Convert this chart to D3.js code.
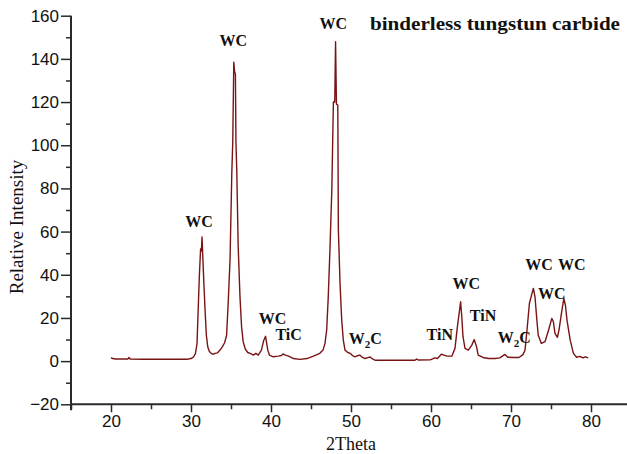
<!DOCTYPE html>
<html><head><meta charset="utf-8">
<script src="https://cdn.jsdelivr.net/npm/d3@7"></script>
<style>
html,body{margin:0;padding:0;background:#fff;}
svg{display:block;}
</style></head>
<body>
<svg id="chart" width="627" height="454"></svg>
<script>
// ---- data ----
const twoTheta = [20.0,20.2,20.6,21.5,22.1,22.25,22.4,24.0,26.0,28.0,29.6,30.0,30.3,30.55,30.75,30.9,31.05,31.2,31.3,31.38,31.48,31.62,31.78,31.92,32.1,32.3,32.55,32.8,33.0,33.3,33.6,33.9,34.2,34.45,34.65,34.88,35.1,35.22,35.35,35.45,35.55,35.62,35.72,35.9,36.12,36.32,36.52,36.8,37.1,37.4,37.8,38.1,38.4,38.8,39.1,39.32,39.46,39.6,39.8,40.3,40.9,41.3,41.5,41.8,42.2,42.8,43.6,44.5,45.3,46.1,46.5,46.75,46.96,47.16,47.38,47.6,47.8,47.97,48.07,48.18,48.35,48.42,48.63,48.84,49.04,49.25,49.6,49.9,50.2,50.5,50.8,51.1,51.4,51.75,52.1,52.4,52.7,53.0,55.0,58.0,58.2,58.4,59.9,60.5,60.8,61.3,61.6,62.0,62.6,63.0,63.3,63.54,63.7,63.85,64.0,64.25,64.67,65.1,65.4,65.7,65.9,66.5,67.2,68.0,68.6,69.25,69.6,70.3,71.0,71.5,71.75,72.0,72.3,72.6,72.8,73.0,73.2,73.4,73.8,74.25,74.7,75.1,75.3,75.5,75.8,76.0,76.3,76.6,76.8,77.0,77.4,77.8,78.2,78.6,79.0,79.3,79.66];
const intensity = [1.6,1.2,1.0,1.0,1.0,1.7,1.0,0.9,0.9,0.9,0.9,1.2,1.8,3.5,8,24,40,52,51,57.5,48,35,22,12,6.5,4.5,3.5,3.2,3.6,3.8,5,6.5,8.5,12,27,47,87,101.6,138.5,134,133,101,88.5,53,30,16,9,5.5,4,3.6,2.8,3.6,2.8,5.1,9.7,11.5,8.2,5.1,2.8,2.0,2.3,2.6,3.3,2.8,2.3,1.2,0.8,1.2,2.3,3.6,5.1,8.2,14.4,30,53,79,120,120,148,119,118.6,61,36,19,9.7,5.1,4,3.6,2.5,2,2.5,2.8,1.8,1.2,1.6,1.9,1.0,0.4,0.4,0.4,1.0,0.5,0.6,1.5,1.2,3.2,2.8,2.3,2.3,5.9,16,22.8,27.5,20.5,11.3,5.9,5.1,7.4,10,6.6,2.8,1.7,1.2,1.2,1.5,3.1,1.8,1.7,1.7,3,5,14.4,26.7,31,33.7,29.8,20.5,12,8.2,9,14.4,19.8,18.2,12.8,11,14.4,22,29,26,19,9.7,3.6,1.8,2.2,1.5,2.0,1.5];

const yTickValues = [-20,0,20,40,60,80,100,120,140,160];
const xTickValues = [20,30,40,50,60,70,80];

// peak labels: [text, subscript, after, 2theta-position, intensity-position]
const peakLabels = [
  ["WC","","",31.0,62],
  ["WC","","",35.3,146],
  ["WC","","",40.2,17],
  ["TiC","","",42.2,10],
  ["WC","","",47.8,154],
  ["W","2","C",51.8,8],
  ["TiN","","",61.1,10],
  ["WC","","",64.4,33.5],
  ["TiN","","",66.5,18.5],
  ["W","2","C",70.4,8.5],
  ["WC","","",73.5,42],
  ["WC","","",77.6,42],
  ["WC","","",75.1,29],
];
const titleText = "binderless tungstun carbide";
const xTitle = "2Theta";
const yTitle = "Relative Intensity";

// ---- drawing ----
const svg = d3.select("#chart");
const x = d3.scaleLinear().domain([15, 85]).range([71, 631]);
const y = d3.scaleLinear().domain([-20, 160]).range([404.3, 15.7]);
const axisColor = "#2a2a2a";

// y axis
const yAxisG = svg.append("g").attr("transform", `translate(${x(15)},0)`);
yAxisG.call(d3.axisLeft(y).tickValues(yTickValues).tickSize(10).tickPadding(2).tickFormat(d3.format("d")));
const yMinor = svg.append("g").attr("transform", `translate(${x(15)},0)`);
yMinor.call(d3.axisLeft(y).tickValues(d3.range(-10,160,20)).tickSize(5).tickFormat(""));
yMinor.select(".domain").remove();

// x axis
const xAxisG = svg.append("g").attr("transform", `translate(0,${y(-20)})`);
xAxisG.call(d3.axisBottom(x).tickValues(xTickValues).tickSize(8).tickPadding(3).tickFormat(d3.format("d")));
const xMinor = svg.append("g").attr("transform", `translate(0,${y(-20)})`);
xMinor.call(d3.axisBottom(x).tickValues(d3.range(15,86,10)).tickSize(5).tickFormat(""));
xMinor.select(".domain").remove();

svg.selectAll(".domain").attr("stroke", axisColor).attr("stroke-width", 2);
svg.selectAll(".tick line").attr("stroke", axisColor).attr("stroke-width", 1.5);
svg.selectAll(".tick text").attr("font-family", "Liberation Sans, Arial, sans-serif")
  .attr("font-size", 17).attr("fill", "#111");
xAxisG.select(".domain").attr("d", `M${x(15)},0H627`);
yAxisG.select(".domain").attr("d", `M0,${y(160)}V${y(-20)+6}`);

// trace
const line = d3.line().x((d,i)=>x(twoTheta[i])).y(d=>y(d)).curve(d3.curveLinear);
svg.append("path").datum(intensity)
  .attr("d", line)
  .attr("fill","none")
  .attr("stroke","#7a1414")
  .attr("stroke-width",1.4)
  .attr("stroke-linejoin","round");

// peak labels
const lab = svg.append("g").attr("font-family","Liberation Serif, Times New Roman, serif")
  .attr("font-weight","bold").attr("font-size",16).attr("fill","#111");
peakLabels.forEach(p => {
  const t = lab.append("text").attr("x", x(p[3])).attr("y", y(p[4])).attr("text-anchor","middle");
  t.append("tspan").text(p[0]);
  if (p[1]) {
    t.append("tspan").attr("font-size",11).attr("dy",4).text(p[1]);
    t.append("tspan").attr("dy",-4).text(p[2]);
  }
});

// title
svg.append("text").attr("x", 370).attr("y", 30)
  .attr("font-family","Liberation Serif, Times New Roman, serif")
  .attr("font-weight","bold").attr("font-size",19).attr("fill","#111")
  .attr("textLength",250).attr("lengthAdjust","spacingAndGlyphs")
  .text(titleText);

// axis titles
svg.append("text").attr("x", x(50)).attr("y", 450).attr("text-anchor","middle")
  .attr("font-family","Liberation Serif, Times New Roman, serif").attr("font-size",18).attr("fill","#111")
  .text(xTitle);
svg.append("text").attr("transform", `translate(23,${227}) rotate(-90)`).attr("text-anchor","middle")
  .attr("font-family","Liberation Serif, Times New Roman, serif").attr("font-size",19).attr("fill","#111")
  .text(yTitle);
</script>
</body></html>
